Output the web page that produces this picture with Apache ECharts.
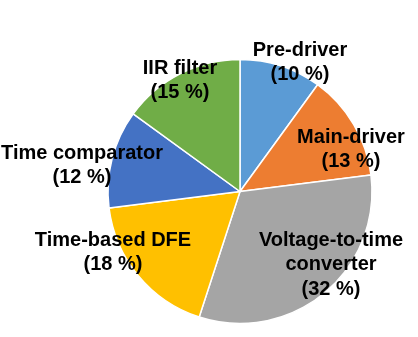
<!DOCTYPE html>
<html>
<head>
<meta charset="utf-8">
<script src="https://cdn.jsdelivr.net/npm/echarts@6/dist/echarts.min.js"></script>
<style>
  html, body { margin: 0; padding: 0; background: #ffffff; }
  #chart { width: 418px; height: 337px; }
</style>
</head>
<body>
<div id="chart"></div>
<script>
// Power breakdown of the transceiver blocks (clockwise from 12 o'clock)
const blocks = ['Pre-driver', 'Main-driver', 'Voltage-to-time\nconverter', 'Time-based DFE', 'Time comparator', 'IIR filter'];
const shares = [10, 13, 32, 18, 12, 15];
const colors = ['#5B9BD5', '#ED7D31', '#A5A5A5', '#FFC000', '#4472C4', '#70AD47'];

// Label anchor offsets from the pie centre, in px
const labelOffsets = [[60, -129], [111, -42], [91, 73], [-127, 61], [-158, -26], [-60, -111]];

const cx = 240, cy = 191.5, r = 132;

const chart = echarts.init(document.getElementById('chart'), null, { renderer: 'canvas' });
chart.setOption({
  animation: false,
  series: [{
    type: 'pie',
    center: [cx, cy],
    radius: r,
    startAngle: 90,
    clockwise: true,
    data: blocks.map((b, i) => ({ name: b, value: shares[i], itemStyle: { color: colors[i] } })),
    itemStyle: { borderColor: '#ffffff', borderWidth: 1.5 },
    label: {
      show: true,
      position: 'inside',
      formatter: p => p.name + '\n(' + p.value + ' %)',
      fontFamily: 'Liberation Sans, Arial, sans-serif',
      fontWeight: 'bold',
      fontSize: 20,
      lineHeight: 24.5,
      color: '#000000',
      align: 'center'
    },
    labelLine: { show: false },
    labelLayout: p => ({
      x: cx + labelOffsets[p.dataIndex][0],
      y: cy + labelOffsets[p.dataIndex][1],
      align: 'center',
      verticalAlign: 'middle'
    })
  }]
});
</script>
</body>
</html>
